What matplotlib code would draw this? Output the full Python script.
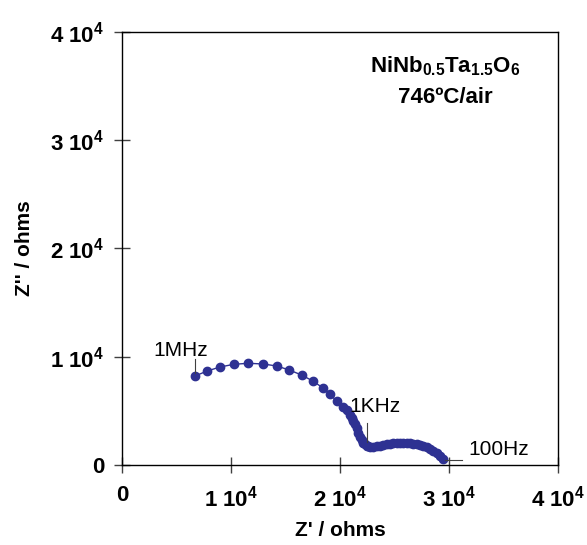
import matplotlib
matplotlib.use("Agg")
import matplotlib.pyplot as plt

plt.rcParams['font.family'] = ['Liberation Sans', 'DejaVu Sans']
plt.rcParams['mathtext.fontset'] = 'custom'
plt.rcParams['mathtext.rm'] = 'Liberation Sans'
plt.rcParams['mathtext.bf'] = 'Liberation Sans:bold'
plt.rcParams['mathtext.it'] = 'Liberation Sans:italic'

# Impedance spectrum (Z', Z''), ohms
z_real = [6697, 7826, 8991, 10275, 11587, 12963, 14193, 15349, 16541, 17495,
          18413, 19083, 19697, 20303, 20615, 20917, 21070, 21223, 21376, 21529,
          21682, 21835, 21988, 22141, 22294, 22447, 22600, 22752, 23058, 23364,
          23670, 23976, 24281, 24587, 24893, 25199, 25505, 25810, 26116, 26422,
          26728, 27034, 27339, 27645, 27951, 28257, 28563, 28869, 29174, 29420]
z_imag = [8222, 8684, 9053, 9303, 9395, 9330, 9145, 8776, 8286, 7760,
          7141, 6531, 5912, 5400, 5081, 4619, 4311, 4065, 3788, 3388,
          2987, 2617, 2309, 2063, 1909, 1786, 1724, 1693, 1693, 1724,
          1786, 1848, 1909, 1971, 2002, 2032, 2032, 2032, 2032, 2002,
          1971, 1909, 1848, 1755, 1632, 1509, 1324, 1081, 802, 524]

ticks = [0, 10000, 20000, 30000, 40000]
tick_labels = ['0', r'$\mathbf{1\ 10^{4}}$', r'$\mathbf{2\ 10^{4}}$',
               r'$\mathbf{3\ 10^{4}}$', r'$\mathbf{4\ 10^{4}}$']

navy = '#2E3192'

fig = plt.figure(figsize=(5.87, 5.45), dpi=100)
ax = fig.add_axes([0.2078, 0.1468, 0.7428, 0.7945])

ax.plot(z_real, z_imag, '-o', color=navy, lw=1, ms=6, mec=navy, mfc=navy)

ax.set_xlim(0, 40000)
ax.set_ylim(0, 40000)
ax.set_xticks(ticks)
ax.set_yticks(ticks)
ax.set_xticklabels(tick_labels, fontsize=16, fontweight='bold')
ax.set_yticklabels(tick_labels, fontsize=16, fontweight='bold')
ax.tick_params(direction='inout', length=11.5, width=1, color='#404040')
ax.tick_params(axis='x', pad=9)
ax.tick_params(axis='y', pad=7)
for s in ax.spines.values():
    s.set_linewidth(1)

ax.set_xlabel("Z' / ohms", fontsize=15, fontweight='bold', labelpad=7)
ax.set_ylabel("Z'' / ohms", fontsize=15, fontweight='bold', labelpad=12)

# frequency markers
ax.plot([6697, 6697], [8500, 9750], color='#404040', lw=0.8)
ax.text(2840, 10070, '1MHz', fontsize=15)
ax.plot([22450, 22450], [2152, 3908], color='#404040', lw=0.8)
ax.text(20900, 4920, '1KHz', fontsize=15)
ax.plot([29630, 31170], [460, 460], color='#404040', lw=0.8)
ax.text(31740, 1400, '100Hz', fontsize=15, va='center')

ax.text(0.741, 0.9076, r'$\mathbf{NiNb_{0.5}Ta_{1.5}O_6}$', transform=ax.transAxes,
        ha='center', va='baseline', fontsize=16)
ax.text(0.741, 0.836, '746ºC/air', transform=ax.transAxes,
        ha='center', va='baseline', fontsize=16, fontweight='bold')

fig.savefig('out.png', dpi=100)
